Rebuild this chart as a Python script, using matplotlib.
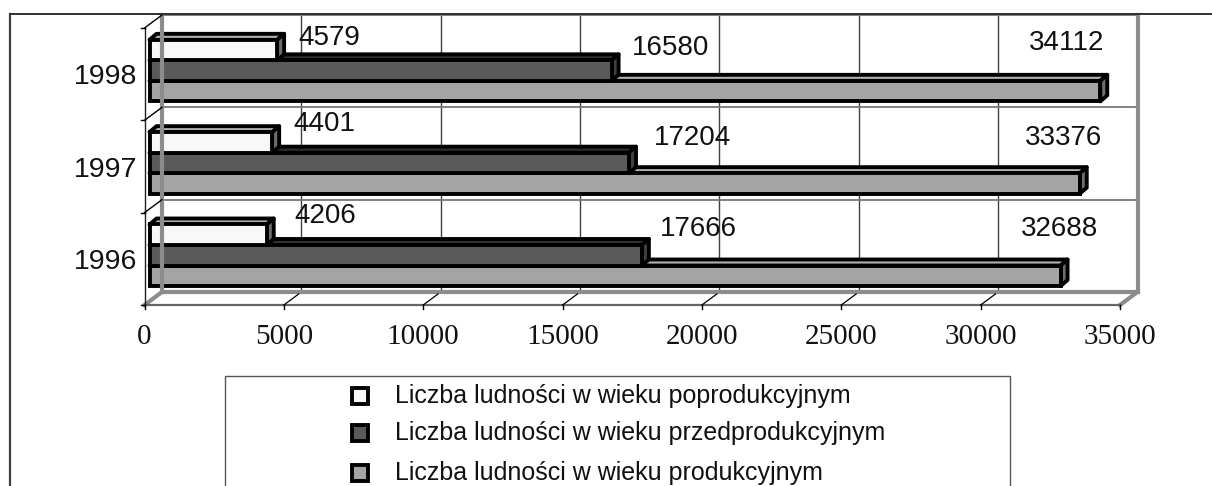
import matplotlib
matplotlib.use("Agg")
import matplotlib.pyplot as plt
from matplotlib.lines import Line2D
from matplotlib.patches import Polygon, Rectangle

years = ["1996", "1997", "1998"]
poprodukcyjny = [4206, 4401, 4579]
przedprodukcyjny = [17666, 17204, 16580]
produkcyjny = [32688, 33376, 34112]
x_ticks = [0, 5000, 10000, 15000, 20000, 25000, 30000, 35000]
legend_labels = [
    "Liczba ludności w wieku poprodukcyjnym",
    "Liczba ludności w wieku przedprodukcyjnym",
    "Liczba ludności w wieku produkcyjnym",
]

W, H = 1212, 486
# px on the figure
AX_L, AX_R, AX_T, AX_B = 144.5, 1120, 28, 305
XMAX = 35000
PX_X = (AX_R - AX_L) / XMAX
PX_Y = (AX_B - AX_T) / 3

COL_WHITE = "#f8f8f8"
COL_DARK = "#5a5a5a"
COL_GREY = "#a4a4a4"
COL_WALL = "#8c8c8c"


def dx(px):
    return px / PX_X


def dy(px):
    return px / PX_Y


# depth of the chart box and of the bars
WALL_DX, WALL_DY = dx(17.5), dy(13)
BAR_DX, BAR_DY = dx(7), dy(6)
BAR_START = dx(5)
BAR_H = dy(20.5)
BAR_BOTTOM = dy(19)


def draw_bar(ax, value, y, color):
    x0, x1 = BAR_START, BAR_START + value
    top = y + BAR_H
    # top and side faces, then the front
    ax.add_patch(Polygon([(x0, top), (x0 + BAR_DX, top + BAR_DY), (x1 + BAR_DX, top + BAR_DY), (x1, top)],
                         fc="#b0b0b0" if color != COL_DARK else "#303030", ec="black", lw=2.8, clip_on=False, joinstyle="round"))
    ax.add_patch(Polygon([(x1, y), (x1 + BAR_DX, y + BAR_DY), (x1 + BAR_DX, top + BAR_DY), (x1, top)],
                         fc="#6e6e6e" if color != COL_DARK else "#404040", ec="black", lw=2.8, clip_on=False, joinstyle="round"))
    ax.add_patch(Rectangle((x0, y), value, BAR_H, fc=color, ec="black", lw=2.8, clip_on=False))


fig = plt.figure(figsize=(W / 100, H / 100), dpi=100)
fig.add_artist(Line2D([10 / W, 10 / W], [0, 1 - 14 / H], color="#404040", lw=1.6))
fig.add_artist(Line2D([10 / W, 1], [1 - 14 / H, 1 - 14 / H], color="#303030", lw=1.4))

ax = fig.add_axes([AX_L / W, 1 - AX_B / H, (AX_R - AX_L) / W, (AX_B - AX_T) / H])
ax.set_xlim(0, XMAX)
ax.set_ylim(0, 3)
ax.patch.set_visible(False)
for s in ax.spines.values():
    s.set_visible(False)

# back wall grid
for t in x_ticks[1:-1]:
    ax.plot([t + WALL_DX] * 2, [WALL_DY, 3 + WALL_DY], color="#404040", lw=1, clip_on=False, zorder=1)
for i in range(1, 4):
    ax.plot([WALL_DX, XMAX + WALL_DX], [i + WALL_DY] * 2, color="#777777", lw=1.3, clip_on=False, zorder=1)

# grey walls and floor
wall = dict(color=COL_WALL, lw=3, clip_on=False, zorder=1.5, solid_capstyle="projecting")
ax.plot([WALL_DX, WALL_DX], [WALL_DY, 3 + WALL_DY], **wall)
ax.plot([XMAX + WALL_DX] * 2, [WALL_DY, 3 + WALL_DY], **wall)
ax.plot([WALL_DX, XMAX + WALL_DX], [WALL_DY, WALL_DY], **wall)
ax.plot([0, WALL_DX], [0, WALL_DY], **wall)
ax.plot([XMAX, XMAX + WALL_DX], [0, WALL_DY], **wall)
ax.plot([0, XMAX], [0, 0], color="#666666", lw=1.6, clip_on=False, zorder=1.5)
ax.plot([0, 0], [0, 3], color="#202020", lw=1, clip_on=False, zorder=1.5)

# front ticks and the slanted lines up to the wall
for t in x_ticks:
    ax.plot([t, t], [0, -dy(4)], color="black", lw=1, clip_on=False)
for t in x_ticks[1:-1]:
    ax.plot([t, t + WALL_DX * 0.85], [0, WALL_DY * 0.85], color="black", lw=0.9, clip_on=False)
for i in range(0, 4):
    ax.plot([-dx(4), 0], [i, i], color="black", lw=1, clip_on=False)
    if i > 0:
        ax.plot([0, WALL_DX], [i, i + WALL_DY], color="black", lw=1, clip_on=False)

series = [poprodukcyjny, przedprodukcyjny, produkcyjny]
colors = [COL_WHITE, COL_DARK, COL_GREY]
# lowest bar first, so the one above covers its top face
for i in range(3):
    for k in (2, 1, 0):
        y = i + BAR_BOTTOM + (2 - k) * BAR_H
        draw_bar(ax, series[k][i], y, colors[k])

# value labels, placed as in the reference
label_font = dict(family="Liberation Sans", fontsize=20, color="#111111", ha="left", va="center", clip_on=False)
label_px = {
    0: [(294, 216), (660, 229), (1021, 229)],
    1: [(293, 124), (654, 138), (1025, 138)],
    2: [(298, 38), (632, 48), (1029, 43)],
}
for i in range(3):
    for k, vals in enumerate(series):
        px, py = label_px[i][k]
        ax.text((px - AX_L) / PX_X, (AX_B - py) / PX_Y, str(vals[i]), **label_font)

ax.set_xticks(x_ticks)
ax.set_xticklabels([str(t) for t in x_ticks], family="Liberation Serif", fontsize=21, color="#111111")
ax.tick_params(axis="x", length=0, pad=14)
ax.set_yticks([0.5, 1.5, 2.5])
ax.set_yticklabels(years, family="Liberation Sans", fontsize=20.5, color="#111111")
ax.tick_params(axis="y", length=0, pad=5)

# legend box runs off the bottom of the figure
fig.add_artist(Rectangle((225 / W, -0.02), (1010 - 225) / W, 1 - 376 / H + 0.02, transform=fig.transFigure,
                         fc="white", ec="#555555", lw=1))
for y_px, label, col in zip([396, 433, 473], legend_labels, colors):
    fig.add_artist(Line2D([360 / W], [1 - y_px / H], marker="s", ms=12, mfc=col, mec="black", mew=2.8, ls="none"))
    fig.text(395 / W, 1 - y_px / H, label, family="Liberation Sans", fontsize=18, color="#111111", va="center")

fig.savefig("out.png", dpi=100)
